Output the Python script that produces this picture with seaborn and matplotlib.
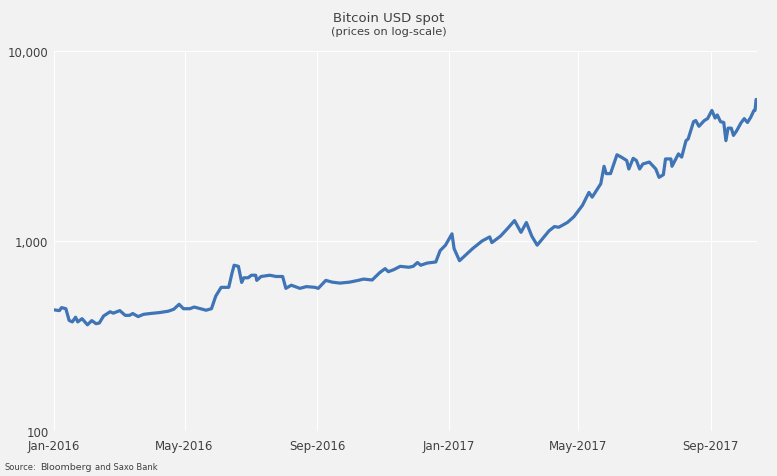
import matplotlib
matplotlib.use("Agg")
import matplotlib.pyplot as plt
import matplotlib.dates as mdates
import matplotlib.ticker as mticker
import seaborn as sns
import pandas as pd

# prices (USD, approx)
dates = [
    "2016-01-01", "2016-01-06", "2016-01-08", "2016-01-12", "2016-01-15", "2016-01-18",
    "2016-01-21", "2016-01-23", "2016-01-27", "2016-02-01", "2016-02-05", "2016-02-09",
    "2016-02-12", "2016-02-16", "2016-02-22", "2016-02-25", "2016-03-02", "2016-03-07",
    "2016-03-11", "2016-03-14", "2016-03-19", "2016-03-24", "2016-03-30", "2016-04-08",
    "2016-04-16", "2016-04-21", "2016-04-26", "2016-04-30", "2016-05-06", "2016-05-10",
    "2016-05-15", "2016-05-21", "2016-05-26", "2016-05-30", "2016-06-04", "2016-06-11",
    "2016-06-14", "2016-06-16", "2016-06-20", "2016-06-23", "2016-06-25", "2016-06-29",
    "2016-07-02", "2016-07-06", "2016-07-07", "2016-07-11", "2016-07-19", "2016-07-25",
    "2016-07-31", "2016-08-03", "2016-08-08", "2016-08-16", "2016-08-22", "2016-08-30",
    "2016-09-02", "2016-09-09", "2016-09-15", "2016-09-22", "2016-10-01", "2016-10-09",
    "2016-10-14", "2016-10-22", "2016-10-29", "2016-11-03", "2016-11-06", "2016-11-11",
    "2016-11-17", "2016-11-25", "2016-11-29", "2016-12-03", "2016-12-06", "2016-12-12",
    "2016-12-20", "2016-12-24", "2016-12-29", "2017-01-04", "2017-01-06", "2017-01-11",
    "2017-01-23", "2017-02-01", "2017-02-08", "2017-02-10", "2017-02-18", "2017-02-25",
    "2017-03-03", "2017-03-09", "2017-03-14", "2017-03-19", "2017-03-24", "2017-04-04",
    "2017-04-09", "2017-04-13", "2017-04-21", "2017-04-27", "2017-05-05", "2017-05-11",
    "2017-05-14", "2017-05-19", "2017-05-22", "2017-05-25", "2017-05-27", "2017-05-31",
    "2017-06-06", "2017-06-10", "2017-06-15", "2017-06-17", "2017-06-21", "2017-06-24",
    "2017-06-27", "2017-06-30", "2017-07-06", "2017-07-12", "2017-07-15", "2017-07-19",
    "2017-07-21", "2017-07-26", "2017-07-27", "2017-08-02", "2017-08-05", "2017-08-09",
    "2017-08-11", "2017-08-16", "2017-08-18", "2017-08-21", "2017-08-26", "2017-08-29",
    "2017-09-02", "2017-09-05", "2017-09-07", "2017-09-10", "2017-09-13", "2017-09-15",
    "2017-09-17", "2017-09-20", "2017-09-22", "2017-09-25", "2017-09-29", "2017-10-02",
    "2017-10-05", "2017-10-08", "2017-10-11", "2017-10-12", "2017-10-13",
]
prices = [
    434, 430, 446, 440, 382, 375,
    397, 375, 390, 362, 381, 367,
    370, 403, 424, 417, 430, 406,
    406, 415, 400, 411, 415, 420,
    427, 437, 464, 440, 440, 449,
    441, 432, 440, 513, 570, 570,
    675, 745, 735, 605, 640, 640,
    660, 660, 620, 650, 660, 650,
    650, 563, 585, 563, 575, 570,
    563, 620, 607, 600, 607, 620,
    630, 623, 681, 715, 689, 706,
    735, 727, 735, 770, 745, 765,
    775, 889, 950, 1090, 910, 787,
    910, 1000, 1050, 980, 1060, 1170,
    1280, 1110, 1250, 1060, 950, 1130,
    1190, 1180, 1250, 1340, 1540, 1800,
    1700, 1880, 2000, 2470, 2260, 2260,
    2840, 2760, 2650, 2390, 2720, 2650,
    2390, 2540, 2600, 2390, 2160, 2230,
    2700, 2700, 2470, 2870, 2760, 3370,
    3440, 4240, 4300, 4010, 4300, 4400,
    4860, 4430, 4600, 4240, 4200, 3370,
    3920, 3920, 3590, 3800, 4180, 4400,
    4200, 4470, 4860, 4860, 5550,
]

df = pd.DataFrame({"date": pd.to_datetime(dates), "price": prices})

bg = "#f2f2f2"
sns.set_theme(style="darkgrid", rc={
    "axes.facecolor": bg, "figure.facecolor": bg,
    "grid.color": "white", "grid.linewidth": 0.8,
})
plt.rcParams["font.family"] = ["DejaVu Sans"]

fig = plt.figure(figsize=(7.77, 4.77), dpi=100)
ax = fig.add_axes([0.0695, 0.0943, 0.905, 0.797])

sns.lineplot(data=df, x="date", y="price", ax=ax, color="#3f74b6", linewidth=2.3)

ax.set_yscale("log")
ax.set_ylim(100, 10000)
ax.set_xlim(pd.Timestamp("2016-01-01"), pd.Timestamp("2017-10-14"))
ax.yaxis.set_major_locator(mticker.FixedLocator([100, 1000, 10000]))
ax.yaxis.set_major_formatter(mticker.FuncFormatter(lambda v, p: f"{int(v):,}"))
ax.yaxis.set_minor_locator(mticker.NullLocator())
ax.xaxis.set_major_locator(mdates.MonthLocator(bymonth=[1, 5, 9]))
ax.xaxis.set_major_formatter(mdates.DateFormatter("%b-%Y"))
ax.tick_params(axis="both", labelsize=8.5, colors="#404040", length=0, pad=4)
ax.tick_params(axis="x", pad=6)
for s in ax.spines.values():
    s.set_visible(False)
ax.set_xlabel("")
ax.set_ylabel("")

fig.text(0.5, 0.962, "Bitcoin USD spot", ha="center", va="center", fontsize=9.5, color="#404040")
fig.text(0.5, 0.932, "(prices on log-scale)", ha="center", va="center", fontsize=8.2, color="#404040")
fig.text(0.006, 0.02, "Source:", ha="left", va="center", fontsize=6, color="#404040")
fig.text(0.051, 0.02, "Bloomberg", ha="left", va="center", fontsize=6.8, color="#404040")
fig.text(0.122, 0.02, "and Saxo Bank", ha="left", va="center", fontsize=6, color="#404040")

fig.savefig("out.png", dpi=100, facecolor=bg)
